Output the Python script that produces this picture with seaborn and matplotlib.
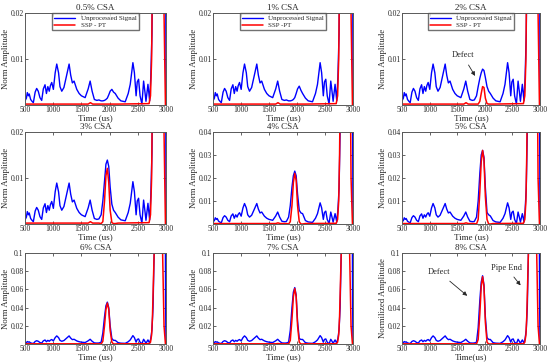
import numpy as np
import pandas as pd
import seaborn as sns
import matplotlib.pyplot as plt

# shared noise of the unprocessed signal (outside the defect window)
pre_t = [500, 525, 541, 560, 575, 600, 625, 648, 680, 707, 735, 765, 796, 825, 855, 880,
         905, 930, 950, 974, 1003, 1035, 1063, 1095, 1120, 1152, 1190, 1230, 1282, 1310,
         1340, 1370, 1418, 1460, 1500, 1566, 1620, 1655, 1690, 1730, 1774, 1810]
pre_a = [0.0009, 0.0015, 0.0027, 0.0020, 0.0024, 0.0012, 0.0008, 0.0005, 0.0028, 0.0036,
         0.0030, 0.0016, 0.0010, 0.0035, 0.0044, 0.0025, 0.0040, 0.0030, 0.0042, 0.0049,
         0.0034, 0.0070, 0.0089, 0.0070, 0.0040, 0.0030, 0.0038, 0.0060, 0.0089, 0.0065,
         0.0048, 0.0052, 0.0034, 0.0025, 0.0020, 0.0016, 0.0035, 0.0052, 0.0030, 0.0012,
         0.0010, 0.0011]
post_t = [2150, 2200, 2277, 2330, 2366, 2413, 2440, 2470, 2490, 2514, 2540, 2573, 2603,
          2625, 2645, 2680, 2710]
post_a = [0.0015, 0.0009, 0.0007, 0.0025, 0.0045, 0.0092, 0.0070, 0.0020, 0.0050, 0.0056,
          0.0020, 0.0002, 0.0052, 0.0030, 0.0008, 0.0045, 0.0009]

# pipe end echo (goes far above the plotted range)
end_t_blue = [2730, 2751, 2770, 2790, 2820, 2860, 2940, 2965, 2980, 2992, 3000]
end_blue = [0.006, 0.0154, 0.04, 0.1, 0.4, 1.0, 1.0, 0.6, 0.3, 0.05, 0.0]
end_t_red = [2725, 2745, 2760, 2790, 2830, 2860, 2900, 2920, 2940, 2965, 2990]
end_red = [0.002, 0.01, 0.03, 0.1, 0.6, 1.0, 1.0, 0.5, 0.1, 0.02, 0.0]
red_base_t = [500, 1620, 1660, 1700, 1810]
red_base = [0.0002, 0.0002, 0.0005, 0.0002, 0.0002]
red_post_t = [2150, 2700]
red_post = [0.0002, 0.0003]

# defect window, one row per panel
def_t = [1850, 1880, 1910, 1935, 1960, 1985, 2010, 2040, 2070, 2100]
blue_def = [
    [0.0009, 0.0009, 0.0010, 0.0012, 0.0015, 0.0022, 0.0030, 0.0034, 0.0028, 0.0025],
    [0.0009, 0.0009, 0.0010, 0.0012, 0.0016, 0.0025, 0.0035, 0.0041, 0.0032, 0.0025],
    [0.0020, 0.0040, 0.0058, 0.0070, 0.0078, 0.0075, 0.0060, 0.0040, 0.0030, 0.0025],
    [0.0020, 0.0050, 0.0093, 0.0130, 0.0139, 0.0125, 0.0080, 0.0043, 0.0030, 0.0025],
    [0.0030, 0.0080, 0.0160, 0.0210, 0.0230, 0.0210, 0.0130, 0.0060, 0.0048, 0.0045],
    [0.0030, 0.0100, 0.0220, 0.0300, 0.0320, 0.0290, 0.0160, 0.0050, 0.0040, 0.0035],
    [0.0020, 0.0120, 0.0300, 0.0420, 0.0460, 0.0400, 0.0200, 0.0060, 0.0040, 0.0040],
    [0.0020, 0.0150, 0.0400, 0.0570, 0.0620, 0.0540, 0.0250, 0.0060, 0.0050, 0.0050],
    [0.0020, 0.0180, 0.0480, 0.0680, 0.0750, 0.0650, 0.0300, 0.0070, 0.0050, 0.0050],
]
red_def = [
    [0.0002] * 10,
    [0.0002] * 10,
    [0.0002, 0.0002, 0.0008, 0.0025, 0.0040, 0.0038, 0.0015, 0.0003, 0.0002, 0.0002],
    [0.0001, 0.0005, 0.0050, 0.0105, 0.0121, 0.0090, 0.0030, 0.0003, 0.0001, 0.0001],
    [0.0, 0.001, 0.008, 0.018, 0.022, 0.019, 0.008, 0.001, 0.0, 0.0],
    [0.0, 0.002, 0.014, 0.027, 0.032, 0.028, 0.012, 0.002, 0.0, 0.0],
    [0.0, 0.003, 0.020, 0.038, 0.045, 0.038, 0.015, 0.002, 0.0, 0.0],
    [0.0, 0.004, 0.027, 0.052, 0.061, 0.052, 0.020, 0.002, 0.0, 0.0],
    [0.0, 0.005, 0.033, 0.063, 0.074, 0.063, 0.024, 0.002, 0.0, 0.0],
]

titles = ['0.5% CSA', '1% CSA', '2% CSA', '3% CSA', '4% CSA', '5% CSA',
          '6% CSA', '7% CSA', '8% CSA']
ymax = [0.02, 0.02, 0.02, 0.02, 0.04, 0.04, 0.1, 0.1, 0.1]
yticks = {0.02: [0.01, 0.02], 0.04: [0.01, 0.02, 0.03, 0.04],
          0.1: [0.02, 0.04, 0.06, 0.08, 0.1]}
red_names = ['SSP - PT', 'SSP -PT', 'SSP - PT']

sns.set_style('ticks')
plt.rcParams['font.family'] = ['Liberation Serif', 'DejaVu Serif']

fig = plt.figure(figsize=(5.5, 3.62), dpi=100)
W, H = 550, 362
lefts = [25, 213, 402]
widths = [141, 140, 138]
tops = [13, 132, 253]
heights = [92, 92, 91]

for i in range(9):
    r, c = divmod(i, 3)
    ax = fig.add_axes([lefts[c] / W, 1 - (tops[r] + heights[r]) / H,
                       widths[c] / W, heights[r] / H])
    bt = pre_t + def_t + post_t + end_t_blue
    ba = pre_a + blue_def[i] + post_a + end_blue
    rt = red_base_t + def_t + red_post_t + end_t_red
    ra = red_base + red_def[i] + red_post + end_red
    blue_df = pd.DataFrame({'t': bt, 'a': ba})
    red_df = pd.DataFrame({'t': rt, 'a': ra})
    lab_b = 'Unprocessed Signal' if i < 3 else None
    lab_r = red_names[i] if i < 3 else None
    sns.lineplot(data=blue_df, x='t', y='a', color='#0000ff', lw=1.0,
                 estimator=None, ax=ax, label=lab_b)
    sns.lineplot(data=red_df, x='t', y='a', color='#ff0000', lw=1.1,
                 estimator=None, ax=ax, label=lab_r)
    ax.set_xlim(500, 3000)
    ax.set_ylim(0, ymax[i])
    ax.set_xticks([500, 1000, 1500, 2000, 2500, 3000])
    ax.set_yticks(yticks[ymax[i]])
    ax.set_yticklabels([f'{v:g}' for v in yticks[ymax[i]]])
    ax.tick_params(direction='in', length=2, width=0.5, labelsize=5.5, pad=1,
                   top=True, right=True)
    for s in ax.spines.values():
        s.set_color('0.35')
        s.set_linewidth(0.7)
    ax.set_title(titles[i], fontsize=6.5, pad=2)
    ax.set_xlabel('Time(us)' if i == 8 else 'Time (us)', fontsize=6.5, labelpad=0)
    ax.set_ylabel('Normilized Amplitude' if i == 8 else 'Norm Amplitude',
                  fontsize=6.3, labelpad=0.5)
    if i < 3:
        ax.legend(loc='upper center', fontsize=5, frameon=True, fancybox=False,
                  edgecolor='0.3', handlelength=3, borderpad=0.3,
                  labelspacing=0.2, borderaxespad=0)
    elif ax.get_legend() is not None:
        ax.get_legend().remove()
    arrow = dict(arrowstyle='-|>', color='0.15', lw=0.6, mutation_scale=6)
    if i == 2:
        ax.annotate('Defect', xy=(1850, 0.0058), xytext=(1600, 0.0108),
                    fontsize=6, ha='center', va='center', arrowprops=arrow)
    if i == 8:
        ax.annotate('Defect', xy=(1720, 0.051), xytext=(1170, 0.079),
                    fontsize=6, ha='center', va='center', arrowprops=arrow)
        ax.annotate('Pipe End', xy=(2680, 0.062), xytext=(2390, 0.084),
                    fontsize=6, ha='center', va='center', arrowprops=arrow)

fig.savefig('out.png', dpi=100)
